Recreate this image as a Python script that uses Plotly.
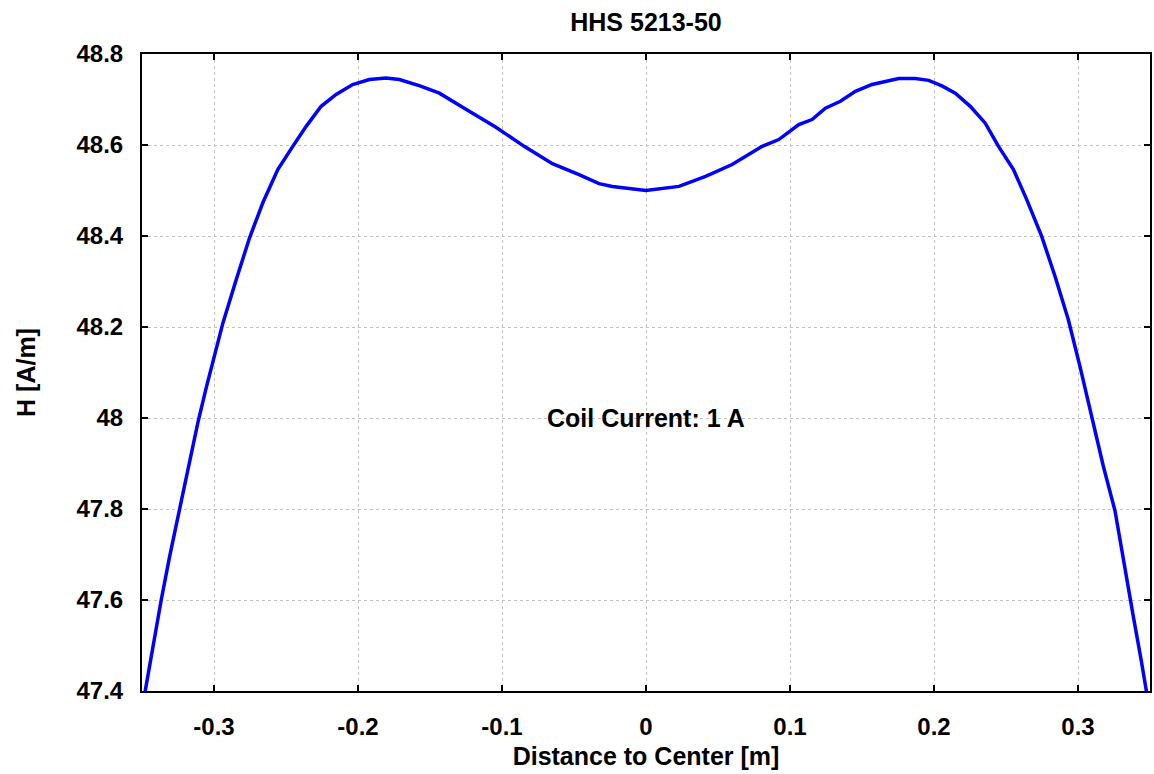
import plotly.graph_objects as go

# Distance to center [m]
distance = [-0.348, -0.3424, -0.3366, -0.3308, -0.3243, -0.3169, -0.3112, -0.3053, -0.2996,
            -0.2938, -0.2846, -0.2753, -0.2661, -0.2557, -0.2453, -0.236, -0.2256, -0.2152,
            -0.2037, -0.1921, -0.1805, -0.1748, -0.1713, -0.157, -0.1435, -0.1262, -0.1146,
            -0.1042, -0.0846, -0.065, -0.0465, -0.0326, -0.0234, 0.0,
            0.0229, 0.0414, 0.0598, 0.0807, 0.0922, 0.1061, 0.1153, 0.1246, 0.135, 0.1454,
            0.157, 0.1685, 0.1755, 0.187, 0.1963, 0.2055, 0.2148, 0.2252, 0.2356, 0.2448,
            0.2552, 0.2644, 0.2748, 0.2841, 0.2933, 0.3014, 0.3095, 0.3176, 0.3257, 0.3327,
            0.3384, 0.3442, 0.3477]
# Field strength H [A/m]
field = [47.396, 47.498, 47.601, 47.696, 47.796, 47.905, 47.990, 48.068, 48.138,
         48.209, 48.304, 48.396, 48.473, 48.546, 48.597, 48.641, 48.685, 48.711,
         48.733, 48.744, 48.747, 48.746, 48.744, 48.73, 48.714, 48.681, 48.658,
         48.639, 48.597, 48.559, 48.535, 48.515, 48.509, 48.500,
         48.509, 48.531, 48.557, 48.597, 48.612, 48.645, 48.656, 48.681, 48.696, 48.718,
         48.733, 48.740, 48.746, 48.746, 48.742, 48.730, 48.714, 48.685, 48.648, 48.597,
         48.546, 48.480, 48.399, 48.311, 48.216, 48.113, 48.0, 47.894, 47.796, 47.674,
         47.564, 47.462, 47.396]

x_ticks = [-0.3, -0.2, -0.1, 0, 0.1, 0.2, 0.3]
x_ticktext = ["-0.3", "-0.2", "-0.1", "0", "0.1", "0.2", "0.3"]
y_ticks = [47.4, 47.6, 47.8, 48.0, 48.2, 48.4, 48.6, 48.8]
y_ticktext = ["47.4", "47.6", "47.8", "48", "48.2", "48.4", "48.6", "48.8"]

FONT = "Liberation Sans, Arial, sans-serif"

fig = go.Figure()
fig.add_trace(go.Scatter(x=distance, y=field, mode="lines",
                         line=dict(color="#0000ff", width=3.5), showlegend=False))

fig.add_annotation(x=0, y=48.0, text="<b>Coil Current: 1 A</b>", showarrow=False,
                   font=dict(family=FONT, size=25, color="black"))

axis_common = dict(showline=True, linecolor="black", linewidth=2, mirror="ticks",
                   ticks="inside", ticklen=6, tickwidth=2, tickcolor="black",
                   showgrid=True, gridcolor="#c0c0c0", gridwidth=1, griddash="3px,3px",
                   zeroline=False,
                   tickfont=dict(family=FONT, size=24, color="black", weight="bold"))

fig.update_xaxes(range=[-0.35, 0.35], tickvals=x_ticks, ticktext=x_ticktext,
                 ticklabelstandoff=13,
                 title=dict(text="<b>Distance to Center [m]</b>", standoff=9,
                            font=dict(family=FONT, size=25, color="black")),
                 **axis_common)
fig.update_yaxes(range=[47.4, 48.8], tickvals=y_ticks, ticktext=y_ticktext,
                 ticklabelstandoff=12,
                 title=dict(text="<b>H [A/m]</b>", standoff=34,
                            font=dict(family=FONT, size=25, color="black")),
                 **axis_common)

fig.update_layout(
    width=1154, height=774,
    margin=dict(l=142, r=2, t=54, b=83),
    paper_bgcolor="white", plot_bgcolor="white",
    title=dict(text="<b>HHS 5213-50</b>", xref="paper", x=0.5, xanchor="center",
               yref="container", y=0.9716, yanchor="middle",
               font=dict(family=FONT, size=25, color="black")),
)

fig.write_html("out.html", config={"displayModeBar": False},
               post_script="document.body.style.margin='0';document.body.style.overflow='hidden';")
